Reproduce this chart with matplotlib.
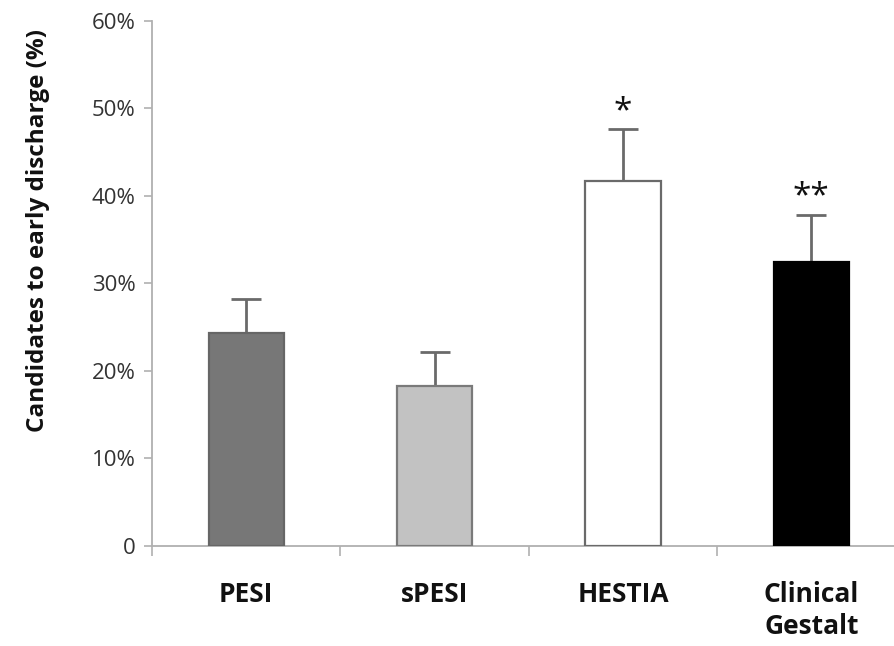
import matplotlib.pyplot as plt
import numpy as np

categories = ["PESI", "sPESI", "HESTIA", "Clinical\nGestalt"]
values = [24.3, 18.3, 41.7, 32.5]
err_upper = [3.9, 3.9, 5.9, 5.3]
bar_colors = ["#777777", "#c2c2c2", "#ffffff", "#000000"]
edge_colors = ["#666666", "#7a7a7a", "#6a6a6a", "#000000"]
marks = ["", "", "*", "**"]
mark_y = [0, 0, 49.6, 39.9]

plt.rcParams['font.family'] = ['Open Sans', 'DejaVu Sans']

fig = plt.figure(figsize=(8.94, 6.46), dpi=100)
ax = fig.add_axes([0.170, 0.1548, 0.843, 0.8127])

x = np.arange(len(categories))
ax.bar(x, values, width=0.40, color=bar_colors, edgecolor=edge_colors, linewidth=1.6, zorder=3)
ax.errorbar(x, values, yerr=[np.zeros(len(x)), err_upper], fmt="none",
            ecolor="#6a6a6a", elinewidth=2, capsize=10.5, capthick=2, zorder=2)

for xi, m, my in zip(x, marks, mark_y):
    if m:
        ax.text(xi, my, m, ha="center", va="center", fontsize=24, color="#111111")

ax.set_xlim(-0.5, 3.5)
ax.set_ylim(0, 60)
ax.set_yticks(range(0, 61, 10))
ax.set_yticklabels(["0"] + [f"{v}%" for v in range(10, 61, 10)], fontsize=16, color="#333333")

ax.set_xticks([-0.5, 0.5, 1.5, 2.5])
ax.set_xticklabels([])
ax.set_xticks(x, minor=True)
ax.set_xticklabels(categories, minor=True, fontsize=19, fontweight="bold", color="#111111",
                   linespacing=1.25)
ax.tick_params(axis="x", which="minor", length=0, pad=25)
ax.tick_params(axis="x", which="major", length=7, color="#b0b0b0", width=1.2, direction="out")
ax.tick_params(axis="y", length=6, color="#b0b0b0", width=1.2, pad=6)

for s in ["top", "right"]:
    ax.spines[s].set_visible(False)
for s in ["left", "bottom"]:
    ax.spines[s].set_color("#b0b0b0")
    ax.spines[s].set_linewidth(1.3)

ax.set_ylabel("Candidates to early discharge (%)", fontsize=17.5, fontweight="bold",
              color="#111111")
ax.yaxis.set_label_coords(-0.135, 0.60)

fig.savefig("out.png", dpi=100)
